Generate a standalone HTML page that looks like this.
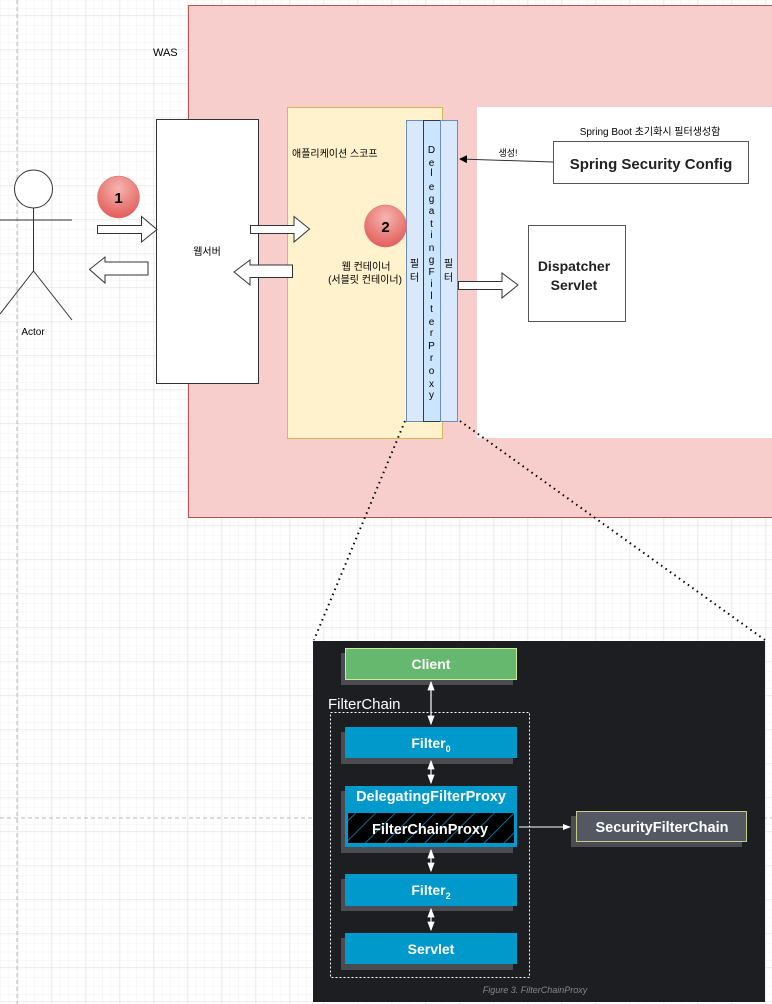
<!DOCTYPE html>
<html><head><meta charset="utf-8"><style>
html,body{margin:0;padding:0;background:#fff;}
svg{display:block;}
text{font-family:"Liberation Sans","Noto Sans CJK KR",sans-serif;}
</style></head><body>
<svg width="772" height="1004" viewBox="0 0 772 1004" xmlns="http://www.w3.org/2000/svg">
<defs>
<pattern id="minor" x="0.7" y="0.3" width="8.5" height="8.5" patternUnits="userSpaceOnUse">
<path d="M8.5 0V8.5M0 8.5H8.5" stroke="#f2f2f2" stroke-width="1" fill="none"/></pattern>
<pattern id="major" x="17.7" y="15.3" width="34" height="34" patternUnits="userSpaceOnUse">
<path d="M0 0V34M0 0H34" stroke="#e0e0e0" stroke-width="1" fill="none"/></pattern>
<radialGradient id="red" cx="0.5" cy="0.3" r="0.7">
<stop offset="0" stop-color="#f5b5b0"/><stop offset="1" stop-color="#e35d5a"/></radialGradient>
<pattern id="hatch" width="14" height="14" patternUnits="userSpaceOnUse" patternTransform="rotate(45)">
<rect width="14" height="14" fill="#000"/><path d="M0 0V14" stroke="#0b8fc8" stroke-width="1.5"/></pattern>
<marker id="ah" markerWidth="8" markerHeight="8" refX="7" refY="4" orient="auto"><path d="M0 0L8 4L0 8Z" fill="#000"/></marker>
<marker id="wa" markerWidth="8" markerHeight="8" refX="7" refY="4" orient="auto-start-reverse"><path d="M0 1L8 4L0 7Z" fill="#fff"/></marker>
</defs>
<rect width="772" height="1004" fill="url(#minor)"/>
<rect width="772" height="1004" fill="url(#major)"/>
<line x1="17" y1="0" x2="17" y2="1004" stroke="#bbb" stroke-dasharray="4,3"/>
<line x1="0" y1="818" x2="772" y2="818" stroke="#bbb" stroke-dasharray="4,3"/>

<text x="153" y="56" font-size="11">WAS</text>
<rect x="188.5" y="5.5" width="590" height="512" fill="#f8cecc" stroke="#b85450"/>
<rect x="477" y="107" width="300" height="331" fill="#fff"/>
<rect x="287.5" y="107.5" width="155" height="331" fill="#fff2cc" stroke="#d6b656"/>
<text x="292" y="157" font-size="10">애플리케이션 스코프</text>
<text x="366" y="270" font-size="10" text-anchor="middle">웹 컨테이너</text>
<text x="365" y="283" font-size="10" text-anchor="middle">(서블릿 컨테이너)</text>

<rect x="156.5" y="119.5" width="102" height="264" fill="#fff" stroke="#333"/>
<text x="207" y="255" font-size="10" text-anchor="middle">웹서버</text>

<rect x="406.5" y="120.5" width="17" height="301" fill="#dae8fc" stroke="#6c8ebf"/>
<rect x="423.5" y="120.5" width="17" height="301" fill="#cce5ff" stroke="#36393d"/>
<rect x="440.5" y="120.5" width="17" height="301" fill="#dae8fc" stroke="#6c8ebf"/>
<text x="414.5" y="267" font-size="10" text-anchor="middle">필</text>
<text x="414.5" y="281" font-size="10" text-anchor="middle">터</text>
<text x="448.5" y="267" font-size="10" text-anchor="middle">필</text>
<text x="448.5" y="281" font-size="10" text-anchor="middle">터</text>
<g font-size="10" text-anchor="middle">
<text x="431.5" y="153">D</text><text x="431.5" y="166">e</text><text x="431.5" y="176">l</text><text x="431.5" y="190">e</text><text x="431.5" y="202">g</text><text x="431.5" y="214">a</text><text x="431.5" y="227">t</text><text x="431.5" y="238">i</text><text x="431.5" y="251">n</text><text x="431.5" y="263">g</text><text x="431.5" y="275">F</text><text x="431.5" y="287">i</text><text x="431.5" y="299">l</text><text x="431.5" y="312">t</text><text x="431.5" y="325">e</text><text x="431.5" y="336">r</text><text x="431.5" y="349">P</text><text x="431.5" y="361">r</text><text x="431.5" y="374">o</text><text x="431.5" y="387">x</text><text x="431.5" y="398">y</text>
</g>

<g stroke="#333" fill="none" stroke-width="1">
<circle cx="33.5" cy="189" r="19" fill="#fff"/>
<line x1="33.5" y1="208" x2="33.5" y2="271"/>
<line x1="0" y1="220" x2="72" y2="220"/>
<line x1="33.5" y1="271" x2="0" y2="314"/>
<line x1="33.5" y1="271" x2="72" y2="320"/>
</g>
<text x="33" y="335" font-size="10" text-anchor="middle">Actor</text>

<g fill="#fff" stroke="#333">
<path d="M97.5 225.5H141.5V216.5L157 229.5L141.5 242V233.5H97.5Z"/>
<path d="M148 262H105V257L89.5 269.5L105 283V275H148Z"/>
<path d="M250.5 225.5H294V216.5L309.5 229L294 242V233.5H250.5Z"/>
<path d="M292.5 265H250V260L234 272L250 285V277.5H292.5Z"/>
<path d="M458.5 281.5H502V273L518 285L502 298V289.5H458.5Z"/>
</g>
<circle cx="118.5" cy="197" r="21" fill="url(#red)" stroke="#e06666" stroke-width="0.5"/>
<text x="118.5" y="203" font-size="15" font-weight="bold" text-anchor="middle">1</text>
<circle cx="385.5" cy="226" r="21" fill="url(#red)" stroke="#e06666" stroke-width="0.5"/>
<text x="385.5" y="232" font-size="15" font-weight="bold" text-anchor="middle">2</text>

<text x="650" y="135" font-size="10" text-anchor="middle">Spring Boot  초기화시 필터생성함</text>
<rect x="553.5" y="141.5" width="195" height="42" fill="#fff" stroke="#555"/>
<text x="651" y="169" font-size="15" font-weight="bold" text-anchor="middle" fill="#222">Spring Security Config</text>
<line x1="553" y1="162" x2="460" y2="159" stroke="#333" marker-end="url(#ah)"/>
<text x="508" y="156" font-size="9" text-anchor="middle">생성!</text>
<rect x="528.5" y="225.5" width="97" height="96" fill="#fff" stroke="#555"/>
<text x="574" y="271" font-size="14" font-weight="bold" text-anchor="middle" fill="#222">Dispatcher</text>
<text x="574" y="290" font-size="14" font-weight="bold" text-anchor="middle" fill="#222">Servlet</text>

<line x1="405" y1="421" x2="314" y2="640" stroke="#000" stroke-width="2" stroke-dasharray="1.5,4"/>
<line x1="460" y1="421" x2="765" y2="640" stroke="#000" stroke-width="2" stroke-dasharray="1.5,4"/>

<rect x="313" y="641" width="452" height="361" fill="#1d1e22"/>
<g fill="#4a4c52">
<rect x="341" y="653" width="172" height="32"/>
<rect x="341" y="732" width="172" height="32"/>
<rect x="341" y="791" width="172" height="62"/>
<rect x="341" y="879" width="172" height="32"/>
<rect x="341" y="938" width="172" height="32"/>
<rect x="571" y="816" width="171" height="31"/>
</g>
<rect x="345.5" y="648.5" width="171" height="31" fill="#66b86e" stroke="#d6e5a0"/>
<text x="431" y="669" font-size="14" font-weight="bold" fill="#fff" text-anchor="middle">Client</text>
<text x="328" y="709" font-size="15" fill="#fff">FilterChain</text>
<rect x="330.5" y="712.5" width="199" height="265" fill="none" stroke="#fff" stroke-dasharray="2,2"/>
<rect x="345" y="727" width="172" height="31" fill="#0099cc"/>
<text x="431" y="748" font-size="14" font-weight="bold" fill="#fff" text-anchor="middle">Filter<tspan font-size="9" dy="4">0</tspan></text>
<rect x="345" y="786" width="172" height="61" fill="#0099cc"/>
<text x="431" y="801" font-size="14.5" font-weight="bold" fill="#fff" text-anchor="middle">DelegatingFilterProxy</text>
<rect x="348" y="813" width="166" height="30" fill="url(#hatch)"/>
<text x="430" y="834" font-size="14.5" font-weight="bold" fill="#fff" text-anchor="middle">FilterChainProxy</text>
<rect x="345" y="874" width="172" height="32" fill="#0099cc"/>
<text x="431" y="895" font-size="14" font-weight="bold" fill="#fff" text-anchor="middle">Filter<tspan font-size="9" dy="4">2</tspan></text>
<rect x="345" y="933" width="172" height="31" fill="#0099cc"/>
<text x="431" y="954" font-size="14" font-weight="bold" fill="#fff" text-anchor="middle">Servlet</text>
<rect x="576.5" y="811.5" width="170" height="30" fill="#545863" stroke="#c9c98a"/>
<text x="662" y="832" font-size="14.5" font-weight="bold" fill="#fff" text-anchor="middle">SecurityFilterChain</text>
<g stroke="#fff" stroke-width="1.2" marker-start="url(#wa)" marker-end="url(#wa)">
<line x1="431" y1="682" x2="431" y2="724"/>
<line x1="431" y1="761" x2="431" y2="783"/>
<line x1="431" y1="850" x2="431" y2="871"/>
<line x1="431" y1="909" x2="431" y2="930"/>
</g>
<line x1="519" y1="827" x2="570" y2="827" stroke="#fff" stroke-width="1" marker-end="url(#wa)"/>
<text x="535" y="993" font-size="9" font-style="italic" fill="#888" text-anchor="middle">Figure 3. FilterChainProxy</text>
</svg>
</body></html>
